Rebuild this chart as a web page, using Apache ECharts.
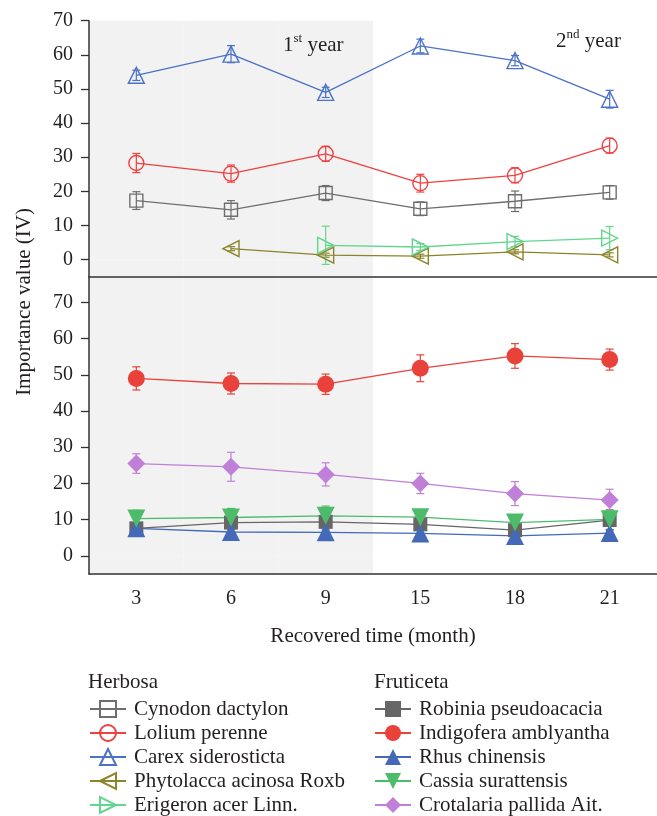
<!DOCTYPE html>
<html>
<head>
<meta charset="utf-8">
<script src="https://cdn.jsdelivr.net/npm/echarts@6/dist/echarts.min.js"></script>
<style>
  html, body { margin: 0; padding: 0; background: #fff; }
  #chart { width: 657px; height: 816px; }
</style>
</head>
<body>
<div id="chart"></div>
<script>
// Sampling times (months after recovery began)
const months = ['3', '6', '9', '15', '18', '21'];
const firstYearMonths = ['3', '6', '9'];

// Value-axis ranges and tick marks
const topRange = [-5, 70];
const bottomRange = [-5, 77];
const majorTicks = [0, 10, 20, 30, 40, 50, 60, 70];
const minorTicks = [5, 15, 25, 35, 45, 55, 65];

// Herbosa: importance value (mean) and error half-width
const cynodon = [17.3, 14.6, 19.5, 14.9, 17.1, 19.7];
const cynodonErr = [2.6, 2.7, 2.2, 2.0, 3.0, 2.0];
const lolium = [28.3, 25.2, 31.0, 22.4, 24.7, 33.4];
const loliumErr = [2.8, 2.5, 2.2, 2.6, 2.2, 2.2];
const carex = [54.0, 60.2, 49.0, 62.6, 58.3, 47.0];
const carexErr = [1.5, 2.5, 1.5, 2.0, 1.5, 2.6];
const phytolacca = [null, 3.2, 1.3, 1.0, 2.3, 1.4];
const phytolaccaErr = [0, 0.6, 0.6, 0.6, 0.6, 0.6];
const erigeron = [null, null, 4.2, 3.7, 5.3, 6.3];
const erigeronErr = [0, 0, 5.6, 1.0, 1.5, 3.4];

// Fruticeta: importance value (mean) and error half-width
const robinia = [7.6, 9.2, 9.4, 8.7, 7.1, 9.9];
const robiniaErr = [1.5, 1.8, 2.3, 1.5, 1.5, 2.8];
const indigofera = [49.0, 47.6, 47.4, 51.8, 55.2, 54.2];
const indigoferaErr = [3.2, 2.9, 2.8, 3.7, 3.4, 2.9];
const rhus = [7.6, 6.6, 6.5, 6.2, 5.5, 6.3];
const rhusErr = [1.0, 1.0, 1.0, 1.0, 1.0, 1.0];
const cassia = [10.3, 10.6, 11.05, 10.7, 9.2, 10.1];
const cassiaErr = [2.3, 2.5, 2.7, 1.0, 1.0, 1.0];
const crotalaria = [25.5, 24.6, 22.5, 20.0, 17.2, 15.4];
const crotalariaErr = [2.7, 4.0, 3.2, 2.8, 3.3, 3.0];

const herbosaNames = ['Cynodon dactylon', 'Lolium perenne', 'Carex siderosticta', 'Phytolacca acinosa Roxb', 'Erigeron acer Linn.'];
const fruticetaNames = ['Robinia pseudoacacia', 'Indigofera amblyantha', 'Rhus chinensis', 'Cassia surattensis', 'Crotalaria pallida Ait.'];

const FONT = 'Liberation Serif';
const INK = '#231f20';
const AXIS = '#333333';
const SHADE = '#f2f2f2';

const chart = echarts.init(document.getElementById('chart'), null, { renderer: 'canvas' });

function toSeriesData(values) {
  return values.map(v => (v == null ? '-' : v));
}

function lineSeries(name, values, color, symbol, size, hollow, rotate, panel) {
  return {
    name, type: 'line',
    xAxisIndex: panel, yAxisIndex: panel * 2,
    data: toSeriesData(values),
    symbol, symbolSize: size, symbolRotate: rotate || 0,
    connectNulls: false,
    z: 4,
    lineStyle: { color, width: 1.3 },
    itemStyle: hollow
      ? { color: 'rgba(0,0,0,0)', borderColor: color, borderWidth: 1.4 }
      : { color, borderColor: color, borderWidth: 0 },
    emphasis: { disabled: true },
    silent: true
  };
}

function errorSeries(values, errs, color, panel) {
  const data = [];
  values.forEach((v, i) => {
    if (v != null && errs[i] > 0) data.push([i, v - errs[i], v + errs[i]]);
  });
  return {
    type: 'custom',
    xAxisIndex: panel, yAxisIndex: panel * 2,
    silent: true, z: 3,
    data,
    encode: { x: 0, y: [1, 2] },
    renderItem(params, api) {
      const lo = api.coord([api.value(0), api.value(1)]);
      const hi = api.coord([api.value(0), api.value(2)]);
      const w = 4;
      const style = { stroke: color, lineWidth: 1.2, fill: null };
      return {
        type: 'group',
        children: [
          { type: 'line', shape: { x1: lo[0], y1: lo[1], x2: hi[0], y2: hi[1] }, style },
          { type: 'line', shape: { x1: lo[0] - w, y1: lo[1], x2: lo[0] + w, y2: lo[1] }, style },
          { type: 'line', shape: { x1: hi[0] - w, y1: hi[1], x2: hi[0] + w, y2: hi[1] }, style }
        ]
      };
    }
  };
}

// Grey band behind the first-year months, stacked below and above zero
function shadeSeries(panel, range) {
  const mk = v => months.map(m => (firstYearMonths.includes(m) ? v : '-'));
  const base = {
    type: 'bar', xAxisIndex: panel, yAxisIndex: panel * 2,
    stack: 'band' + panel, barWidth: '100%', barCategoryGap: 0, silent: true, z: 0,
    itemStyle: { color: SHADE, borderColor: SHADE, borderWidth: 1 },
    emphasis: { disabled: true }
  };
  return [
    Object.assign({}, base, { data: mk(range[0]) }),
    Object.assign({}, base, { data: mk(range[1]) })
  ];
}

function valueAxes(panel, range) {
  return [
    {
      type: 'value', gridIndex: panel, min: range[0], max: range[1],
      axisLine: { show: true, onZero: false, lineStyle: { color: AXIS, width: 1.5 } },
      axisTick: { show: true, length: 8, customValues: majorTicks, lineStyle: { color: AXIS, width: 1.3 } },
      axisLabel: { customValues: majorTicks, margin: 16, fontFamily: FONT, fontSize: 20, color: INK },
      splitLine: { show: false },
      z: 5
    },
    {
      type: 'value', gridIndex: panel, min: range[0], max: range[1],
      axisLine: { show: false },
      axisTick: { show: true, length: 4, customValues: minorTicks, lineStyle: { color: AXIS, width: 1.3 } },
      axisLabel: { show: false },
      splitLine: { show: false }
    }
  ];
}

const richYear = {
  a: { fontFamily: FONT, fontSize: 21, fontWeight: 'normal', color: INK, lineHeight: 24, verticalAlign: 'bottom' },
  b: { fontFamily: FONT, fontSize: 13, fontWeight: 'normal', color: INK, lineHeight: 14, verticalAlign: 'top' }
};

const legendBase = {
  orient: 'vertical', top: 697, height: 130, padding: 0,
  itemWidth: 36, itemHeight: 20, itemGap: 0, selectedMode: false,
  textStyle: { fontFamily: FONT, fontSize: 21, lineHeight: 24, color: INK, padding: [0, 0, 0, 3] }
};

const headingStyle = { fontFamily: FONT, fontSize: 21, fontWeight: 'normal', color: INK };

const option = {
  animation: false,
  backgroundColor: '#ffffff',
  grid: [
    { left: 89, top: 20.7, width: 573, height: 256 },
    { left: 89, top: 277, width: 573, height: 297 }
  ],
  xAxis: [
    {
      type: 'category', gridIndex: 0, data: months, boundaryGap: true,
      axisLine: { onZero: false, lineStyle: { color: AXIS, width: 1.5 } },
      axisTick: { inside: true, alignWithLabel: true, length: 7, lineStyle: { color: AXIS, width: 1.3 } },
      axisLabel: { show: false },
      z: 5
    },
    {
      type: 'category', gridIndex: 1, data: months, boundaryGap: true,
      axisLine: { onZero: false, lineStyle: { color: AXIS, width: 1.5 } },
      axisTick: { alignWithLabel: true, length: 6, lineStyle: { color: AXIS, width: 1.3 } },
      axisLabel: { margin: 15, fontFamily: FONT, fontSize: 20, color: INK },
      name: 'Recovered time (month)', nameLocation: 'middle', nameGap: 52,
      nameTextStyle: { fontFamily: FONT, fontSize: 21, color: INK },
      z: 5
    }
  ],
  yAxis: [].concat(valueAxes(0, topRange), valueAxes(1, bottomRange)),
  title: [
    { left: 88, top: 672, padding: 0, text: 'Herbosa', textStyle: headingStyle },
    { left: 374, top: 672, padding: 0, text: 'Fruticeta', textStyle: headingStyle },
    { left: 283, top: 32, padding: 0, text: '{a|1}{b|st}{a| year}', textStyle: { fontWeight: 'normal', rich: richYear } },
    { left: 556, top: 28, padding: 0, text: '{a|2}{b|nd}{a| year}', textStyle: { fontWeight: 'normal', rich: richYear } }
  ],
  graphic: [
    {
      type: 'text', x: 24, y: 302, rotation: Math.PI / 2,
      style: { text: 'Importance value (IV)', fontFamily: FONT, fontSize: 21, fill: INK, align: 'center', verticalAlign: 'middle' }
    }
  ],
  legend: [
    Object.assign({}, legendBase, { data: herbosaNames, left: 89 }),
    Object.assign({}, legendBase, { data: fruticetaNames, left: 374 })
  ],
  series: [].concat(
    shadeSeries(0, topRange),
    shadeSeries(1, bottomRange),
    [
      errorSeries(cynodon, cynodonErr, '#6e6e6e', 0),
      errorSeries(lolium, loliumErr, '#f04040', 0),
      errorSeries(carex, carexErr, '#4a72c6', 0),
      errorSeries(phytolacca, phytolaccaErr, '#8c8428', 0),
      errorSeries(erigeron, erigeronErr, '#62d68e', 0),
      errorSeries(robinia, robiniaErr, '#666666', 1),
      errorSeries(indigofera, indigoferaErr, '#e8423b', 1),
      errorSeries(rhus, rhusErr, '#4469b8', 1),
      errorSeries(cassia, cassiaErr, '#4cbc6b', 1),
      errorSeries(crotalaria, crotalariaErr, '#c080d8', 1),

      lineSeries('Cynodon dactylon', cynodon, '#6e6e6e', 'rect', 13, true, 0, 0),
      lineSeries('Lolium perenne', lolium, '#f04040', 'circle', 15, true, 0, 0),
      lineSeries('Carex siderosticta', carex, '#4a72c6', 'triangle', 16, true, 0, 0),
      lineSeries('Phytolacca acinosa Roxb', phytolacca, '#8c8428', 'triangle', 16, true, 90, 0),
      lineSeries('Erigeron acer Linn.', erigeron, '#62d68e', 'triangle', 16, true, -90, 0),

      lineSeries('Robinia pseudoacacia', robinia, '#666666', 'rect', 14, false, 0, 1),
      lineSeries('Indigofera amblyantha', indigofera, '#e8423b', 'circle', 17, false, 0, 1),
      lineSeries('Rhus chinensis', rhus, '#4469b8', 'triangle', 18, false, 0, 1),
      lineSeries('Cassia surattensis', cassia, '#4cbc6b', 'triangle', 18, false, 180, 1),
      lineSeries('Crotalaria pallida Ait.', crotalaria, '#c080d8', 'diamond', 18, false, 0, 1)
    ]
  )
};

chart.setOption(option);
</script>
</body>
</html>
